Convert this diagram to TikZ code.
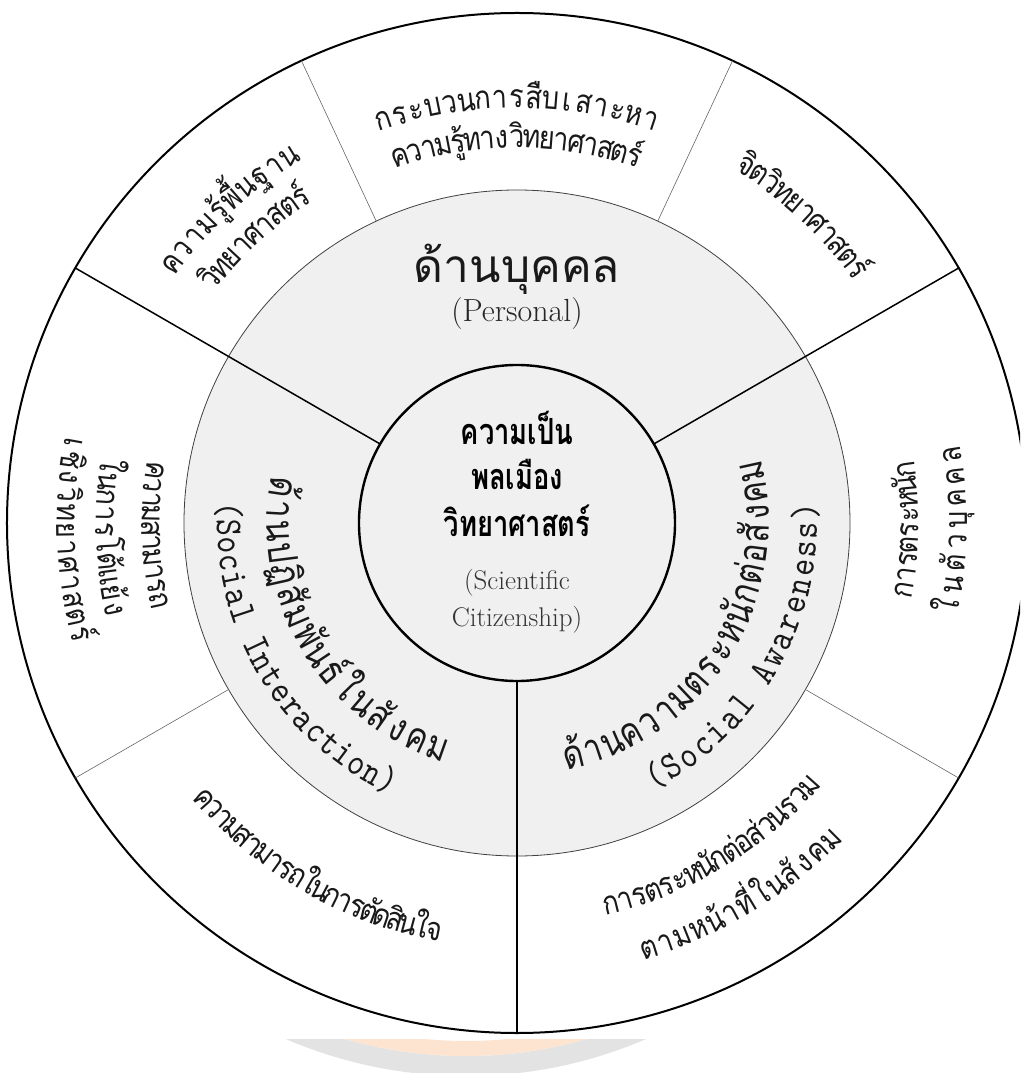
\documentclass[tikz,border=0pt]{standalone}
\usepackage{fontspec}
\newfontfamily\thaifont[Script=Thai]{Loma}
\newfontfamily\thainarrow[Script=Thai,FakeStretch=0.8]{Loma}
\newfontfamily\thaiouter[Script=Thai,FakeStretch=0.85]{Loma}
\newfontfamily\thaiboldnarrow[Script=Thai,FakeStretch=0.76]{Loma Bold}
\newfontfamily\monofont[FakeStretch=0.85]{lmmono10-regular.otf}
\newdimen\arcw \newdimen\arcpos \newdimen\arcsp \newdimen\arctmp
\newcount\arcn \newcount\arcid \newbox\arcbox
% #1 radius, #2 middle angle, #3 1 = clockwise (tops outward) / -1 = anticlockwise (tops inward),
% #4 font, #5 arc length to fill, #6 clusters ( | = word space )
\newcommand\arcglyph[2]{\hbox{#1\ifnum\strcmp{#2}{|}=0 ~\else #2\fi}}
\newcommand\arcline[6]{%
  \global\arcw=0pt \global\arcn=0
  \foreach \gl in {#6}{\setbox\arcbox=\arcglyph{#4}{\gl}\global\advance\arcw by \wd\arcbox \global\advance\arcn by 1 }%
  \pgfmathsetlengthmacro\arcsptmp{(#5pt-\the\arcw)/(\the\arcn-1)}%
  \global\arcsp=\arcsptmp
  \global\arcpos=\dimexpr -#5pt/2\relax
  \foreach \gl in {#6}{%
    \setbox\arcbox=\arcglyph{#4}{\gl}%
    \global\arctmp=\dimexpr\arcpos+\wd\arcbox/2\relax
    \pgfmathsetmacro\arcang{#2-(#3)*(\the\arctmp)/#1*57.29578}%
    \pgfmathsetmacro\arcrot{\arcang-(#3)*90}%
    \global\advance\arcid by 1
    \ifnum\strcmp{\gl}{|}=0 \else
      \node[glyph, rotate=\arcrot] (arc\the\arcid) at (\arcang:#1) {#4\gl};%
    \fi
    \global\advance\arcpos by \wd\arcbox
    \global\advance\arcpos by \arcsp
  }%
}
\newcommand\fo{\thaiouter\fontsize{32}{36}\selectfont}
\newcommand\fgtop{\thaifont\fontsize{46}{50}\selectfont}
\newcommand\fg{\thainarrow\fontsize{40}{44}\selectfont}
\newcommand\fen{\color{black!85}\fontsize{32}{36}\selectfont}
\newcommand\fmono{\monofont\fontsize{38}{42}\selectfont}
\newcommand\fcb{\thaiboldnarrow\fontsize{36}{40}\selectfont}
\newcommand\fce{\color{black!80}\fontsize{27}{30}\selectfont}
\definecolor{ringgray}{RGB}{240,240,240}
\definecolor{wmgray}{RGB}{227,227,227}
\definecolor{wmorange}{RGB}{252,228,208}
\tikzset{
  glyph/.style={inner sep=0pt, outer sep=0pt, anchor=base, text=black!90},
  ctext/.style={inner sep=0pt, outer sep=0pt, anchor=base},
  rim/.style={line width=2pt, draw=black},
  core/.style={line width=2.4pt, draw=black, fill=ringgray},
  ring/.style={fill=ringgray, draw=black!75, line width=0.8pt},
  major/.style={line width=1.5pt, draw=black},
  minor/.style={line width=0.6pt, draw=black!60},
}
\begin{document}
\begin{tikzpicture}[x=1pt, y=1pt]
\useasboundingbox (-517,-550) rectangle (503,523);
\clip (-517,-550) rectangle (503,523);
\fill[white] (-517,-550) rectangle (503,523);
% faint watermark peeking out below the diagram
\begin{scope}
  \clip (-517,-550) rectangle (503,-516);
  \fill[wmgray, even odd rule] (-51,-97) circle (456) circle (436);
  \fill[wmorange, even odd rule] (-51,-97) circle (436) circle (421);
\end{scope}
\coordinate (o) at (0,0);
% rings
\draw[ring] (o) circle (333);
\draw[rim] (o) circle (510);
% thin dividers of the outer ring
\foreach \a/\n in {65/a,115/b,210/c,330/d}{
  \coordinate (m\n1) at (\a:333);
  \coordinate (m\n2) at (\a:510);
  \draw[minor] (m\n1) -- (m\n2);
}
% main dividers
\foreach \a/\n in {30/a,150/b,270/c}{
  \coordinate (M\n1) at (\a:158);
  \coordinate (M\n2) at (\a:510);
  \draw[major] (M\n1) -- (M\n2);
}
\draw[core] (o) circle (158);
% centre
\node[ctext, font=\fcb] (c1) at (0,78) {ความเป็น};
\node[ctext, font=\fcb] (c2) at (0,33) {พลเมือง};
\node[ctext, font=\fcb] (c3) at (0,-14) {วิทยาศาสตร์};
\node[ctext, font=\fce] (c4) at (0,-66) {(Scientific};
\node[ctext, font=\fce] (c5) at (0,-103) {Citizenship)};
% grey ring labels
\node[ctext, font=\fgtop, text=black!90] (p1) at (0,240) {ด้านบุคคล};
\node[ctext, font=\fen] (p2) at (0,201) {(Personal)};
\arcline{250}{211}{-1}{\fg}{345}{ด้,า,น,ป,ฏิ,สั,ม,พั,น,ธ์,ใ,น,สั,ง,ค,ม}
\arcline{300}{210.5}{-1}{\fmono}{346}{{(},S,o,c,i,a,l,|,I,n,t,e,r,a,c,t,i,o,n,{)}}
\arcline{252}{328}{-1}{\fg}{390}{ด้,า,น,ค,ว,า,ม,ต,ร,ะ,ห,นั,ก,ต่,อ,สั,ง,ค,ม}
\arcline{300}{330.5}{-1}{\fmono}{333}{{(},S,o,c,i,a,l,|,A,w,a,r,e,n,e,s,s,{)}}
% outer ring labels
\arcline{415}{90}{1}{\fo}{265}{ก,ร,ะ,บ,ว,น,ก,า,ร,สื,บ,เ,ส,า,ะ,ห,า}
\arcline{375}{90}{1}{\fo}{232}{ค,ว,า,ม,รู้,ท,า,ง,วิ,ท,ย,า,ศ,า,ส,ต,ร์}
\arcline{422}{132.5}{1}{\fo}{156}{ค,ว,า,ม,รู้,พื้,น,ฐ,า,น}
\arcline{381}{132.5}{1}{\fo}{120}{วิ,ท,ย,า,ศ,า,ส,ต,ร์}
\arcline{415}{47}{1}{\fo}{150}{จิ,ต,วิ,ท,ย,า,ศ,า,ส,ต,ร์}
\arcline{402}{-1}{-1}{\fo}{123}{ก,า,ร,ต,ร,ะ,ห,นั,ก}
\arcline{450}{-1}{-1}{\fo}{155}{ใ,น,ตั,ว,บุ,ค,ค,ล}
\arcline{375}{182}{-1}{\fo}{134}{ค,ว,า,ม,ส,า,ม,า,ร,ถ}
\arcline{421}{182}{-1}{\fo}{147}{ใ,น,ก,า,ร,โ,ต้,แ,ย้,ง}
\arcline{460}{182}{-1}{\fo}{197}{เ,ชิ,ง,วิ,ท,ย,า,ศ,า,ส,ต,ร์}
\arcline{426}{240}{-1}{\fo}{275}{ค,ว,า,ม,ส,า,ม,า,ร,ถ,ใ,น,ก,า,ร,ตั,ด,สิ,น,ใ,จ}
\arcline{402}{301}{-1}{\fo}{240}{ก,า,ร,ต,ร,ะ,ห,นั,ก,ต่,อ,ส่,ว,น,ร,ว,ม}
\arcline{455}{301}{-1}{\fo}{219}{ต,า,ม,ห,น้,า,ที่,ใ,น,สั,ง,ค,ม}
\end{tikzpicture}
\end{document}
